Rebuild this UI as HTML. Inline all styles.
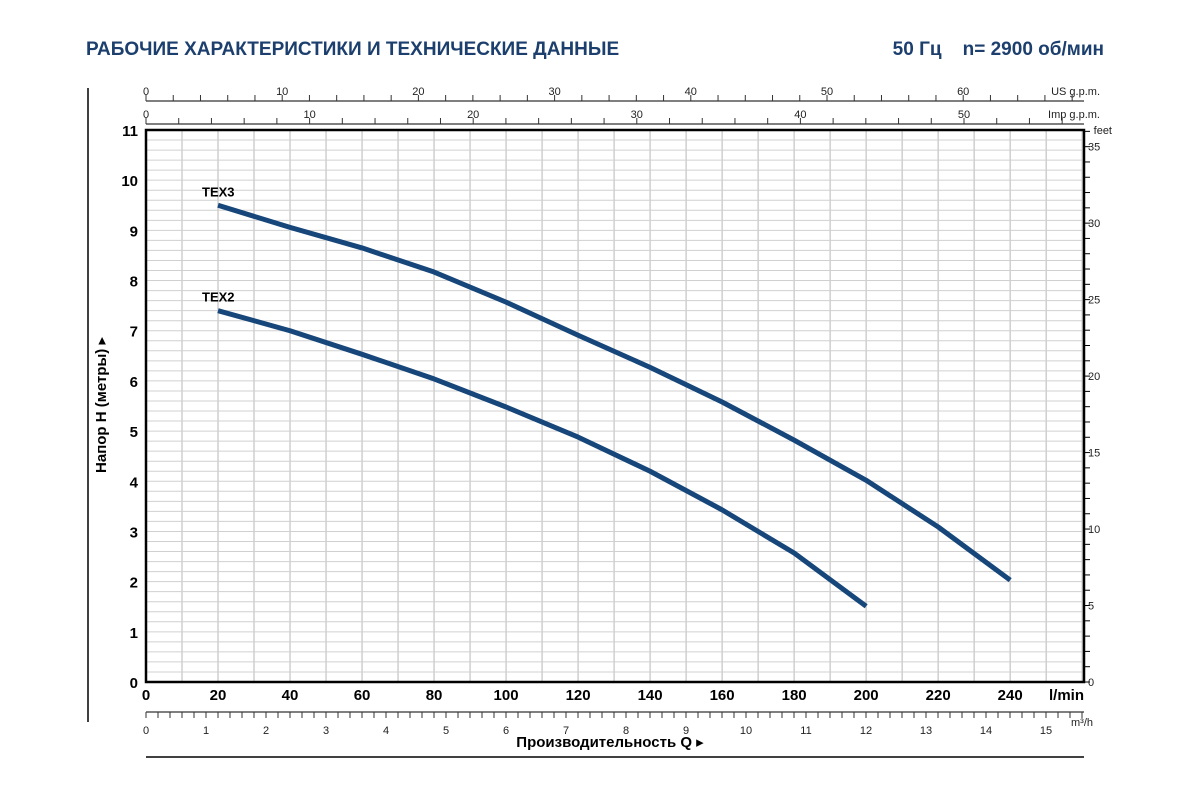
<!DOCTYPE html>
<html><head><meta charset="utf-8"><style>
body{margin:0;background:#fff;font-family:"Liberation Sans",sans-serif}
</style></head><body>
<svg id="c" width="1200" height="800" xmlns="http://www.w3.org/2000/svg" font-family="Liberation Sans, DejaVu Sans, sans-serif">
<text x="86" y="55" font-size="19" font-weight="bold" fill="#1c3f6e">РАБОЧИЕ ХАРАКТЕРИСТИКИ И ТЕХНИЧЕСКИЕ ДАННЫЕ</text>
<text x="1104" y="55" font-size="19" font-weight="bold" fill="#1c3f6e" text-anchor="end">50 Гц&#160;&#160;&#160;&#160;n= 2900 об/мин</text>
<line x1="88" y1="88" x2="88" y2="722" stroke="#000" stroke-width="1.5"/>
<line x1="146" y1="757" x2="1084" y2="757" stroke="#000" stroke-width="1.5"/>
<g id="grid"></g><g id="axes"></g><g id="series"></g>
<text transform="translate(106,405) rotate(-90)" font-size="15" font-weight="bold" text-anchor="middle">Напор H (метры) ▸</text>
<text x="610" y="747" font-size="15" font-weight="bold" text-anchor="middle">Производительность Q ▸</text>
</svg>
<script>
const flowLmin=[20,40,60,80,100,120,140,160,180,200,220,240];
const headTEX3=[9.5,9.06,8.65,8.17,7.57,6.91,6.27,5.58,4.82,4.02,3.09,2.03];
const flowTEX2=[20,40,60,80,100,120,140,160,180,200];
const headTEX2=[7.4,7.0,6.53,6.04,5.48,4.88,4.2,3.43,2.57,1.51];
const xTicks=[0,20,40,60,80,100,120,140,160,180,200,220,240];
const yTicks=[0,1,2,3,4,5,6,7,8,9,10,11];
const NS="http://www.w3.org/2000/svg";
const X0=146,X1=1084,Y0=682,Y1=130,XMAX=260.5,YMAX=11;
const sx=v=>X0+v/XMAX*(X1-X0), sy=v=>Y0-v/YMAX*(Y0-Y1);
function el(p,t,a){const e=document.createElementNS(NS,t);for(const k in a)e.setAttribute(k,a[k]);p.appendChild(e);return e;}
const G=document.getElementById('grid'),A=document.getElementById('axes'),S=document.getElementById('series');
for(let v=0;v<=260;v+=10){const l=el(G,'line',{x1:sx(v),x2:sx(v),y1:Y1,y2:Y0,stroke:'#c8c8c8','stroke-width':1.3});

}
for(let i=1;i<55;i++){const v=i*0.2;const l=el(G,'line',{x1:X0,x2:X1,y1:sy(v),y2:sy(v),stroke:'#d0d0d0','stroke-width':1});

}
const fr=el(A,'rect',{x:X0,y:Y1,width:X1-X0,height:Y0-Y1,fill:'none',stroke:'#000','stroke-width':2.5});


xTicks.forEach(v=>{const t=el(A,'text',{x:sx(v),y:700,'font-size':15,'font-weight':'bold','text-anchor':'middle'});t.textContent=v;

});
const lm=el(A,'text',{x:1084,y:700,'font-size':15,'font-weight':'bold','text-anchor':'end'});lm.textContent='l/min';


yTicks.forEach(v=>{const t=el(A,'text',{x:138,y:sy(v)+6,'font-size':15,'font-weight':'bold','text-anchor':'end'});t.textContent=v;

});
// secondary axes
function axis(y,max,px,step,minor,lab,unit,dir,unitX){
 el(A,'line',{x1:X0,x2:X1,y1:y,y2:y,stroke:'#333','stroke-width':1.3});
 for(let v=0;v*px+X0<=X1+0.5;v+=minor){const x=X0+v*px;el(A,'line',{x1:x,x2:x,y1:y,y2:y+dir*6,stroke:'#333','stroke-width':1});}
 for(let v=0;v*px+X0<=X1-20;v+=step){const t=el(A,'text',{x:X0+v*px,y:dir>0?y+22:y-6,'font-size':11,'text-anchor':'middle',fill:'#222'});t.textContent=v;
 
 }
 const u=el(A,'text',{x:unitX,y:dir>0?y+22:y-6,'font-size':11,'text-anchor':'end',fill:'#222'});u.textContent=unit;
 
 
}
axis(101,66,13.62,10,2,'','US g.p.m.',-1,1100);
axis(124,55,16.36,10,2,'','Imp g.p.m.',-1,1100);
axis(712,15,60,1,0.2,'','',1,1082);
const m3=el(A,'text',{x:1082,y:726,'font-size':11,'text-anchor':'middle',fill:'#222'});m3.textContent='m³/h';


const fpx=0.3048*(Y0-Y1)/YMAX;
for(let f=0;Y0-f*fpx>=Y1-2;f++){const y=Y0-f*fpx;el(A,'line',{x1:X1,x2:X1+6,y1:y,y2:y,stroke:'#000','stroke-width':1});
 if(f%5==0){const t=el(A,'text',{x:X1+4,y:y+4,'font-size':11,fill:'#222'});t.textContent=f;
 
 }}
const ft=el(A,'text',{x:1112,y:134,'font-size':11,'text-anchor':'end',fill:'#222'});ft.textContent='feet';


function curve(xs,ys,name,label){
 let d='';xs.forEach((x,i)=>{d+=(i?' L':'M')+sx(x)+' '+sy(ys[i]);});
 const p=el(S,'path',{d:d,fill:'none',stroke:'#16467a','stroke-width':5,'stroke-linejoin':'round'});
 
 
 const t=el(S,'text',{x:sx(xs[0])-16,y:sy(ys[0])-9,'font-size':13,'font-weight':'bold'});t.textContent=label;
 
 
}
curve(flowLmin,headTEX3,'tex3-curve','TEX3');
curve(flowTEX2,headTEX2,'tex2-curve','TEX2');
</script>
</body></html>
